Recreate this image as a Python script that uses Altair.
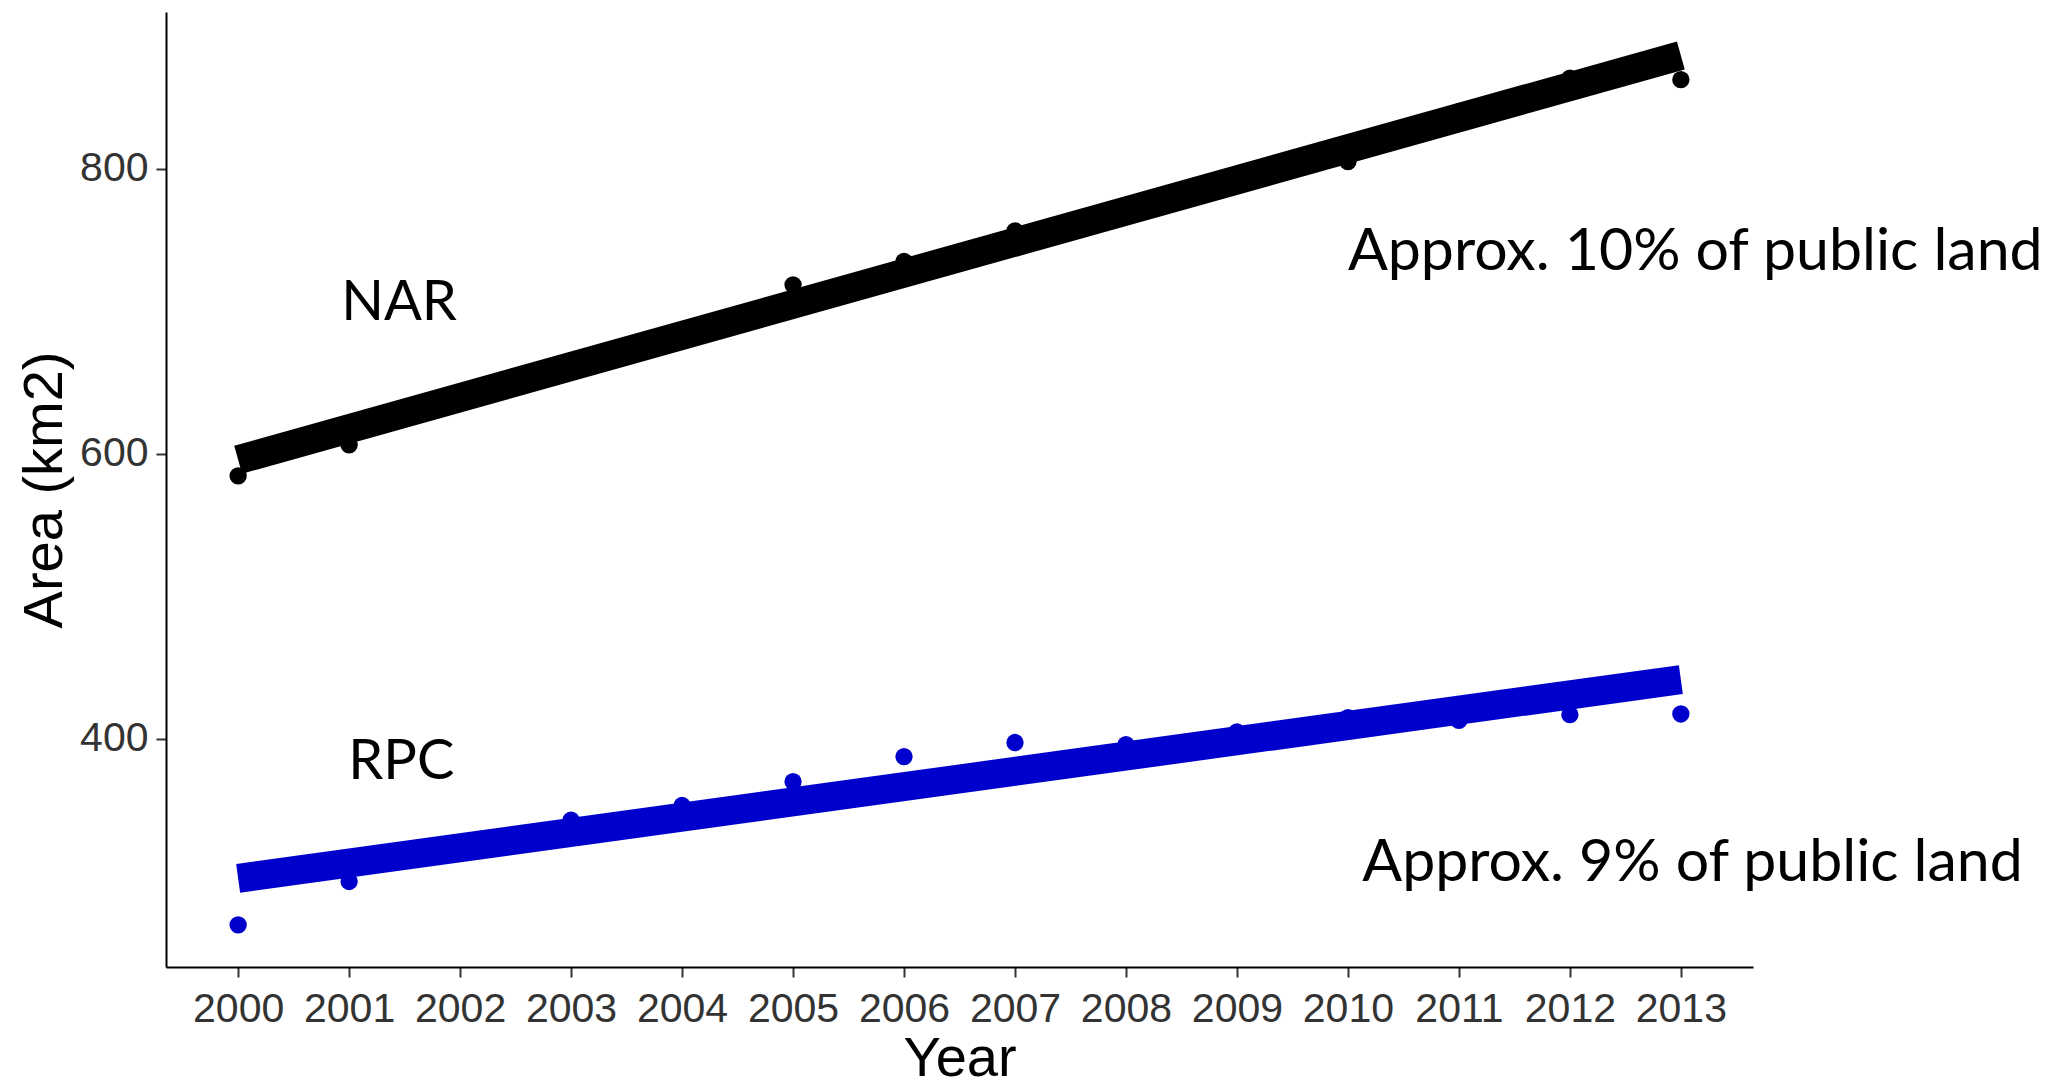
import altair as alt
import pandas as pd

# ---- data ----
years = list(range(2000, 2014))
nar_area = [584.6, 606.3, 643, 663, 686, 718.6, 735, 756.5, 767, 796, 805, 840, 863.6, 862.5]
rpc_area = [269.5, 300, 322, 343, 353.3, 370, 387.6, 397.5, 396, 405, 415, 413, 417, 417.5]
sites = ["NAR", "RPC"]
site_colors = ["#000000", "#0000CD"]

label_text = ["NAR", "RPC"]
label_year = [2001.45, 2001.47]
label_area = [694, 372]

note_text = ["Approx. 10% of public land", "Approx. 9% of public land"]
note_year = [2010.0, 2010.13]
note_area = [729, 300]

y_ticks = [400, 600, 800]

df = pd.DataFrame({
    "Year": years * 2,
    "Area": nar_area + rpc_area,
    "Site": ["NAR"] * len(years) + ["RPC"] * len(years),
})
labels_df = pd.DataFrame({"Year": label_year, "Area": label_area, "text": label_text})
notes_df = pd.DataFrame({"Year": note_year, "Area": note_area, "text": note_text})

x_scale = alt.Scale(domain=[1999.35, 2013.65], nice=False, zero=False)
y_scale = alt.Scale(domain=[240, 910], nice=False, zero=False)

x_enc = alt.X("Year:Q", scale=x_scale,
              axis=alt.Axis(values=years, format="d", title="Year",
                            labelPadding=12, titlePadding=2, labelFlush=False))
y_enc = alt.Y("Area:Q", scale=y_scale,
              axis=alt.Axis(values=y_ticks, format="d", title="Area (km2)",
                            labelPadding=8, titlePadding=6))
color_enc = alt.Color("Site:N", scale=alt.Scale(domain=sites, range=site_colors), legend=None)

points = alt.Chart(df).mark_circle(size=300, opacity=1).encode(x=x_enc, y=y_enc, color=color_enc)

lines = alt.Chart(df).transform_regression(
    "Year", "Area", groupby=["Site"]
).mark_line(strokeWidth=29, strokeCap="butt").encode(
    x=alt.X("Year:Q", scale=x_scale),
    y=alt.Y("Area:Q", scale=y_scale),
    color=color_enc,
    detail="Site:N",
)

labels = alt.Chart(labels_df).mark_text(
    font="Lato", fontSize=56, align="center", baseline="alphabetic", color="black"
).encode(x="Year:Q", y="Area:Q", text="text:N")

notes = alt.Chart(notes_df).mark_text(
    font="Lato", fontSize=59, align="left", baseline="alphabetic", color="black"
).encode(x="Year:Q", y="Area:Q", text="text:N")

chart = alt.layer(points, lines, labels, notes).properties(
    width=1587,
    height=955,
    autosize=alt.AutoSizeParams(type="none"),
    padding={"left": 158, "top": 4, "right": 295, "bottom": 118},
    background="white",
).configure_view(stroke=None).configure_axis(
    grid=False,
    domainColor="black",
    domainWidth=2,
    tickColor="#333333",
    tickWidth=2,
    tickSize=10,
    labelFont="Liberation Sans",
    labelFontSize=41,
    labelColor="#333333",
    titleFont="Liberation Sans",
    titleFontSize=56,
    titleFontWeight="normal",
    titleColor="black",
)

chart.save("out.html", embed_options={"renderer": "svg", "actions": False})
